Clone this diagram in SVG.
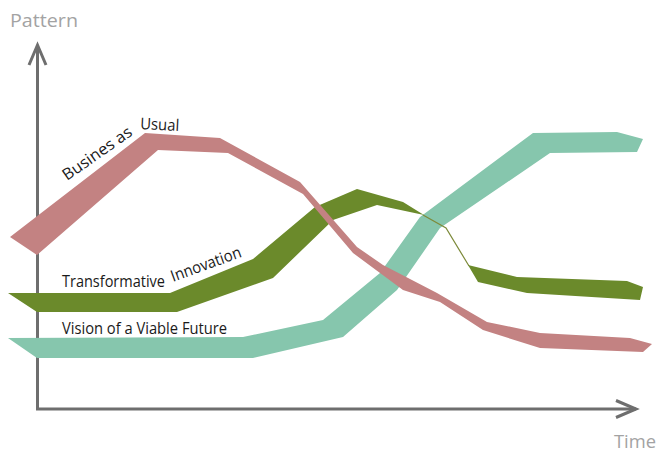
<svg xmlns="http://www.w3.org/2000/svg" width="657" height="454" viewBox="0 0 657 454">
  <defs>
    <marker id="chevron" markerUnits="userSpaceOnUse" markerWidth="30" markerHeight="24" refX="22" refY="12" orient="auto" viewBox="0 0 30 24">
      <path d="M2,3.5 L22,12 L2,20.5" fill="none" stroke="#6e6e6e" stroke-width="3" stroke-linejoin="miter"/>
    </marker>
    <style>
      .axis { fill: none; stroke: #6e6e6e; stroke-width: 3; marker-end: url(#chevron); }
      .axis-label { font-family: "Open Sans", "Noto Sans", sans-serif; font-size: 19px; fill: #a3a3a3; }
      .band-label { font-family: "Open Sans", "Noto Sans", sans-serif; font-size: 16px; fill: #1a1a1a; }
      .vision { fill: #86c6ad; }
      .innovation { fill: #6b8a2b; }
      .thread { fill: none; stroke: #7d8a3a; stroke-width: 1.2; }
      .usual { fill: #c38282; }
    </style>
  </defs>

  <rect width="657" height="454" fill="#ffffff"/>

  <!-- axes -->
  <g id="axes">
    <path class="axis" d="M37.5,409 L37.5,45"/>
    <path class="axis" d="M36,409 L636,409"/>
    <text class="axis-label" x="10" y="27" textLength="68" lengthAdjust="spacingAndGlyphs">Pattern</text>
    <text class="axis-label" x="614" y="448" textLength="42" lengthAdjust="spacingAndGlyphs">Time</text>
  </g>

  <!-- curves: vision at the back, then innovation, business as usual on top -->
  <g id="connectors">
    <g id="vision">
      <polygon class="vision" points="8,338 243,337 323,320 380,273 420,217 533,133 617,132 643,139 637,152 550,153 440,228 397,290 343,337 253,358 37,358"/>
    </g>
    <g id="innovation">
      <polygon class="innovation" points="8,293 170,293 253,259 315,207 357,189 403,202 424,215 377,205 333,220 273,278 177,312 37,312"/>
      <polyline class="thread" points="423,215 446,228 469,266"/>
      <polygon class="innovation" points="468,265 517,277 627,281 643,287 640,300 527,293 478,282"/>
    </g>
    <g id="usual">
      <polygon class="usual" points="10,237 145,133 220,138 300,182 357,247 383,265 437,293 487,322 540,333 630,338 652,344 643,352 540,348 483,330 440,302 403,290 353,253 303,194 228,153 158,150 37,255"/>
    </g>
  </g>

  <!-- band labels -->
  <g id="label-usual">
    <text class="band-label" transform="translate(67,181) rotate(-35)" textLength="81" lengthAdjust="spacingAndGlyphs">Busines  as</text>
    <text class="band-label" transform="translate(140,129) rotate(3)" textLength="39" lengthAdjust="spacingAndGlyphs">Usual</text>
  </g>
  <g id="label-innovation">
    <text class="band-label" x="62" y="287" textLength="103" lengthAdjust="spacingAndGlyphs">Transformative</text>
    <text class="band-label" transform="translate(173,282) rotate(-20)" textLength="74" lengthAdjust="spacingAndGlyphs">Innovation</text>
  </g>
  <g id="label-vision">
    <text class="band-label" x="62" y="334" textLength="165" lengthAdjust="spacingAndGlyphs">Vision of a Viable Future</text>
  </g>
</svg>
